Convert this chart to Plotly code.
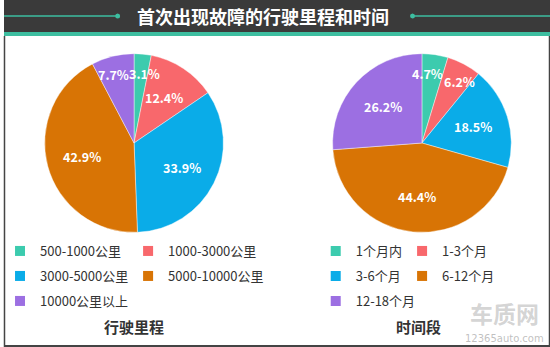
import math
import plotly.graph_objects as go

# ---- data ----
mileage_labels = ["500-1000公里", "1000-3000公里", "3000-5000公里", "5000-10000公里", "10000公里以上"]
mileage_values = [3.1, 12.4, 33.9, 42.9, 7.7]
time_labels = ["1个月内", "1-3个月", "3-6个月", "6-12个月", "12-18个月"]
time_values = [4.7, 6.2, 18.5, 44.4, 26.2]
colors = ["#3CCBAE", "#F8686C", "#0AACE8", "#D87405", "#9C6FE2"]
title_text = "首次出现故障的行驶里程和时间"
sub_left = "行驶里程"
sub_right = "时间段"

W, H = 550, 347
FONT = "Noto Sans CJK SC"
LABEL_SIZE = 12.5

fig = go.Figure()


def px_x(x):
    return x / W


def px_y(y):
    return 1 - y / H


annotations = []

# pies
R = 90
CY = 143
for vals, labs, cx in [(mileage_values, mileage_labels, 131), (time_values, time_labels, 421)]:
    fig.add_trace(go.Pie(
        values=vals, labels=labs, sort=False, direction="clockwise", rotation=0,
        marker=dict(colors=colors, line=dict(color="rgba(255,255,255,0.6)", width=0.7)),
        textinfo="none",
        domain=dict(x=[px_x(cx - R), px_x(cx + R)], y=[px_y(CY + R), px_y(CY - R)]),
        showlegend=False, hoverinfo="label+percent",
    ))
    # percentage labels at slice mid-angle (derived from the data)
    total = sum(vals)
    cum = 0.0
    labs_pos = []
    for v in vals:
        mid = (cum + v / 2) / total
        cum += v
        th = mid * 2 * math.pi
        rf = 0.6 if v >= 10 else 0.78
        txt = f"{v:.1f}%"
        labs_pos.append([cx + rf * R * math.sin(th), CY - rf * R * math.cos(th), txt])
    # resolve overlaps between neighbouring labels (wrap-around included)
    n = len(labs_pos)
    for _ in range(3):
        for i in range(n):
            a, b = labs_pos[i], labs_pos[(i + 1) % n]
            wa, wb = len(a[2]) * 7.2, len(b[2]) * 7.2
            need = (wa + wb) / 2 + 3
            if abs(a[1] - b[1]) < 14 and abs(a[0] - b[0]) < need:
                push = (need - abs(a[0] - b[0])) / 2
                if a[0] < b[0]:
                    a[0] -= push
                    b[0] += push
                else:
                    a[0] += push
                    b[0] -= push
    for lx, ly, txt in labs_pos:
        annotations.append(dict(
            text=f"<b>{txt}</b>", x=px_x(lx), y=px_y(ly), xref="paper", yref="paper",
            showarrow=False, xanchor="center", yanchor="middle",
            font=dict(family=FONT, size=LABEL_SIZE, color="white"),
        ))

# legend entries (square markers), one legend per entry in a 2-column grid
col_x = {"L": [-4, 125], "R": [314, 401]}
grid = [(0, 0), (0, 1), (1, 0), (1, 1), (2, 0)]  # (row, col) for each category
row_y = [251, 276, 301]
li = 0
for side, labs in [("L", mileage_labels), ("R", time_labels)]:
    for idx, (ri, ci) in enumerate(grid):
        li += 1
        lname = "legend" if li == 1 else f"legend{li}"
        fig.add_trace(go.Scatter(
            x=[None], y=[None], mode="markers", name=labs[idx],
            marker=dict(symbol="square", size=10, color=colors[idx]),
            legend=lname, showlegend=True, hoverinfo="skip",
        ))
        fig.update_layout(**{lname: dict(
            x=px_x(col_x[side][ci]), y=px_y(row_y[ri]), xanchor="left", yanchor="middle",
            orientation="h",
            bgcolor="rgba(0,0,0,0)", borderwidth=0,
            font=dict(family=FONT, size=13, color="#333333"),
            itemclick=False, itemdoubleclick=False,
        )})

shapes = [
    # header band
    dict(type="rect", xref="paper", yref="paper", x0=0, x1=1, y0=px_y(32), y1=1,
         fillcolor="#3A3A3A", line_width=0, layer="below"),
    # teal band under header
    dict(type="rect", xref="paper", yref="paper", x0=0, x1=1, y0=px_y(36), y1=px_y(32),
         fillcolor="#3DBEA0", line_width=0, layer="below"),
    # header decorative lines
    dict(type="line", xref="paper", yref="paper", x0=0, x1=px_x(114), y0=px_y(16), y1=px_y(16),
         line=dict(color="#3DBEA0", width=1.5)),
    dict(type="circle", xref="paper", yref="paper", x0=px_x(112), x1=px_x(117), y0=px_y(18.5), y1=px_y(13.5),
         fillcolor="#3DBEA0", line_width=0),
    dict(type="line", xref="paper", yref="paper", x0=px_x(413), x1=1, y0=px_y(16), y1=px_y(16),
         line=dict(color="#3DBEA0", width=1.5)),
    dict(type="circle", xref="paper", yref="paper", x0=px_x(409), x1=px_x(414), y0=px_y(18.5), y1=px_y(13.5),
         fillcolor="#3DBEA0", line_width=0),
    # body border
    dict(type="line", xref="paper", yref="paper", x0=px_x(0.5), x1=px_x(0.5), y0=0, y1=px_y(36),
         line=dict(color="#444444", width=1.5)),
    dict(type="line", xref="paper", yref="paper", x0=px_x(549.5), x1=px_x(549.5), y0=0, y1=px_y(36),
         line=dict(color="#444444", width=1.5)),
    dict(type="line", xref="paper", yref="paper", x0=0, x1=1, y0=px_y(346), y1=px_y(346),
         line=dict(color="#444444", width=2)),
]

annotations += [
    dict(text=f"<b>{title_text}</b>", x=px_x(261), y=px_y(16), xref="paper", yref="paper",
         showarrow=False, xanchor="center", yanchor="middle",
         font=dict(family=FONT, size=18, color="white")),
    dict(text=f"<b>{sub_left}</b>", x=px_x(131), y=px_y(326), xref="paper", yref="paper",
         showarrow=False, xanchor="center", yanchor="middle",
         font=dict(family=FONT, size=15, color="#333333")),
    dict(text=f"<b>{sub_right}</b>", x=px_x(418), y=px_y(326), xref="paper", yref="paper",
         showarrow=False, xanchor="center", yanchor="middle",
         font=dict(family=FONT, size=15, color="#333333")),
    # watermark
    dict(text="<b>车质网</b>", x=px_x(504), y=px_y(313), xref="paper", yref="paper",
         showarrow=False, xanchor="center", yanchor="middle",
         font=dict(family=FONT, size=23, color="rgba(160,160,160,0.45)")),
    dict(text="12365auto.com", x=px_x(504), y=px_y(338.5), xref="paper", yref="paper",
         showarrow=False, xanchor="center", yanchor="middle",
         font=dict(family="DejaVu Sans", size=10, color="rgba(150,150,150,0.6)")),
]

fig.update_layout(
    width=W, height=H, margin=dict(l=0, r=0, t=0, b=0),
    paper_bgcolor="white", plot_bgcolor="white",
    xaxis=dict(visible=False), yaxis=dict(visible=False),
    shapes=shapes, annotations=annotations,
    font=dict(family=FONT),
)

fig.write_html("out.html")
